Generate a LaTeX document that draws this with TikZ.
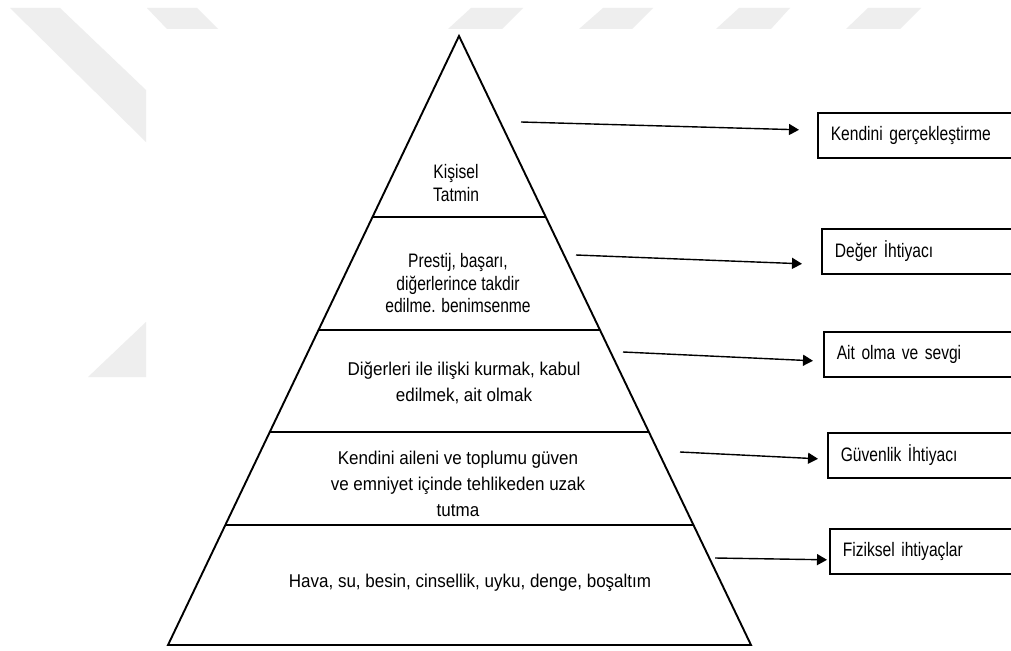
\documentclass[tikz,border=0pt]{standalone}
\usepackage{fontspec}
\setmainfont{Liberation Sans}
\newfontfamily\narrowfont[FakeStretch=0.8]{Liberation Sans}
\newfontfamily\semifont[FakeStretch=0.92]{Liberation Sans}
\usetikzlibrary{arrows.meta,calc}
\definecolor{wm}{RGB}{238,238,238}
\newcommand{\narrowsize}{\narrowfont\fontsize{19.5}{22.5}\selectfont\spaceskip=0.22em plus 0.1em minus 0.05em\relax}
\begin{document}
\begin{tikzpicture}[x=1pt,y=-1pt,
  pyr/.style={line width=1.9pt, line join=miter},
  bandline/.style={line width=2.6pt},
  rbox/.style={draw, line width=1.6pt, anchor=north west, minimum height=45pt,
    text width=190pt, inner xsep=13pt, align=left, font=\narrowsize},
  toplbl/.style={align=center, font=\narrowsize},
  lowlbl/.style={align=center, font=\semifont\fontsize{18.5}{26}\selectfont},
  arr/.style={line width=1.4pt, -{Triangle[length=10pt,width=11pt]}},
  wmark/.style={fill=wm, draw=none}]
\useasboundingbox (0,0) rectangle (1011,650);
\clip (0,0) rectangle (1011,650);
\fill[white] (0,0) rectangle (1011,650);
% watermark
\fill[wmark] (10,8) -- (60,8) -- (146,90) -- (146,142) -- cycle;
\fill[wmark] (147,8) -- (197,8) -- (218,29) -- (167,29) -- cycle;
\fill[wmark] (471,8) -- (523,8) -- (502,29) -- (448,29) -- cycle;
\fill[wmark] (603,8) -- (653,8) -- (632,29) -- (579,29) -- cycle;
\fill[wmark] (739,8) -- (790,8) -- (771,29) -- (716,29) -- cycle;
\fill[wmark] (868,8) -- (921,8) -- (900,29) -- (846,29) -- cycle;
\fill[wmark] (88,377) -- (146,377) -- (146,322) -- cycle;
% pyramid
\coordinate (apex) at (459,36);
\coordinate (bl) at (168,645);
\coordinate (br) at (751,645);
\draw[pyr] (apex) -- (bl) -- (br) -- cycle;
\draw[bandline] ($(apex)!0.2972!(bl)$) -- ($(apex)!0.2972!(br)$);
\draw[bandline] ($(apex)!0.4828!(bl)$) -- ($(apex)!0.4828!(br)$);
\draw[bandline] ($(apex)!0.6502!(bl)$) -- ($(apex)!0.6502!(br)$);
\draw[bandline] ($(apex)!0.8030!(bl)$) -- ($(apex)!0.8030!(br)$);
% band texts
\node[toplbl] (l1) at (456,183) {Kişisel\\Tatmin};
\node[toplbl] (l2) at (458,283.5) {Prestij, başarı,\\diğerlerince takdir\\edilme. benimsenme};
\node[lowlbl] (l3) at (464,383) {Diğerleri ile ilişki kurmak, kabul\\edilmek, ait olmak};
\node[lowlbl] (l4) at (458,484) {Kendini aileni ve toplumu güven\\ve emniyet içinde tehlikeden uzak\\tutma};
\node[lowlbl] (l5) at (470,583) {Hava, su, besin, cinsellik, uyku, denge, boşaltım};
% right boxes
\node[rbox] (b1) at (817,112) {Kendini gerçekleştirme};
\node[rbox] (b2) at (821,228) {Değer İhtiyacı};
\node[rbox] (b3) at (823,331) {Ait olma ve sevgi};
\node[rbox] (b4) at (827,432) {Güvenlik İhtiyacı};
\node[rbox] (b5) at (829,528) {Fiziksel ihtiyaçlar};
% arrows
\coordinate (s1) at (521,122);
\coordinate (s2) at (576,255);
\coordinate (s3) at (623,352);
\coordinate (s4) at (680,452);
\coordinate (s5) at (715,558);
\draw[arr] (s1) -- ($(b1.west)+(-18,-5.5)$);
\draw[arr] (s2) -- ($(b2.west)+(-19,12.5)$);
\draw[arr] (s3) -- ($(b3.west)+(-10,6.5)$);
\draw[arr] (s4) -- ($(b4.west)+(-9,3.5)$);
\draw[arr] (s5) -- ($(b5.west)+(-2,8.5)$);
\end{tikzpicture}
\end{document}
